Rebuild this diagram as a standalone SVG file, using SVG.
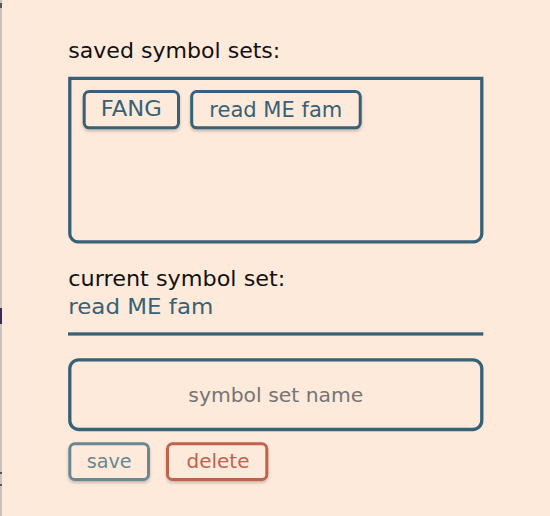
<svg xmlns="http://www.w3.org/2000/svg" width="550" height="516" viewBox="0 0 550 516">
  <defs>
    <filter id="shadow" x="-20%" y="-30%" width="140%" height="170%">
      <feDropShadow dx="0" dy="2" stdDeviation="1.5" flood-color="#000" flood-opacity="0.22"/>
    </filter>
    <style>
      .txt { font-family: "DejaVu Sans", "Noto Sans", sans-serif; }
      .label { font-size: 21px; fill: #111111; }
      .teal { fill: #376176; }
      .box { fill: none; stroke: #376176; stroke-width: 3.3; }
      .chip { fill: #feeadb; stroke: #376176; stroke-width: 3; filter: url(#shadow); }
      .chiptext { font-size: 21px; fill: #376176; text-anchor: middle; }
      .btn { fill: #feeadb; stroke-width: 3; filter: url(#shadow); }
      .btntext { font-size: 20px; text-anchor: middle; }
    </style>
  </defs>

  <rect x="0" y="0" width="550" height="516" fill="#feeadb"/>
  <g id="window-edge">
    <rect x="0" y="0" width="2" height="516" fill="#c9c3bf"/>
    <rect x="0" y="3" width="2" height="5" fill="#55575c"/>
    <rect x="0" y="308" width="2" height="16" fill="#3b2a5c"/>
    <rect x="0" y="472" width="2" height="2" fill="#55575c"/>
    <rect x="0" y="484" width="2" height="2" fill="#55575c"/>
  </g>

  <g id="saved-label">
    <text class="txt label" x="68.3" y="58.3" textLength="212" lengthAdjust="spacingAndGlyphs">saved symbol sets:</text>
  </g>

  <g id="saved-box">
    <path class="box" d="M69.8,78.3 H481.8 V233.8 A8,8 0 0 1 473.8,241.8 H77.8 A8,8 0 0 1 69.8,233.8 Z"/>
  </g>

  <g id="chip-fang">
    <rect class="chip" x="84.2" y="91.5" width="94.3" height="36.3" rx="5"/>
    <text class="txt chiptext" x="131.3" y="116.2" textLength="61" lengthAdjust="spacingAndGlyphs">FANG</text>
  </g>

  <g id="chip-read-me-fam">
    <rect class="chip" x="191.7" y="91.5" width="168.5" height="36.3" rx="5"/>
    <text class="txt chiptext" x="275.8" y="116.5" textLength="133" lengthAdjust="spacingAndGlyphs">read ME fam</text>
  </g>

  <g id="current-label">
    <text class="txt label" x="68.3" y="286" textLength="217" lengthAdjust="spacingAndGlyphs">current symbol set:</text>
    <text class="txt label teal" x="68.3" y="314" font-size="22" textLength="145" lengthAdjust="spacingAndGlyphs">read ME fam</text>
  </g>

  <g id="divider">
    <rect x="68" y="332.3" width="415.3" height="3.3" fill="#376176"/>
  </g>

  <g id="name-input">
    <rect class="box" x="69.8" y="359.8" width="412" height="69.7" rx="9"/>
    <text class="txt" x="275.8" y="401.7" font-size="20" fill="#757575" text-anchor="middle" textLength="175" lengthAdjust="spacingAndGlyphs">symbol set name</text>
  </g>

  <g id="save-button">
    <rect class="btn" x="69.8" y="443.8" width="78.7" height="35.7" rx="5" stroke="#688793"/>
    <text class="txt btntext" x="109.2" y="467.7" fill="#688793" textLength="45" lengthAdjust="spacingAndGlyphs">save</text>
  </g>

  <g id="delete-button">
    <rect class="btn" x="167.5" y="443.8" width="99.3" height="35.7" rx="5" stroke="#bf6350"/>
    <text class="txt btntext" x="218" y="467.7" fill="#bf6350" textLength="63" lengthAdjust="spacingAndGlyphs">delete</text>
  </g>
</svg>
